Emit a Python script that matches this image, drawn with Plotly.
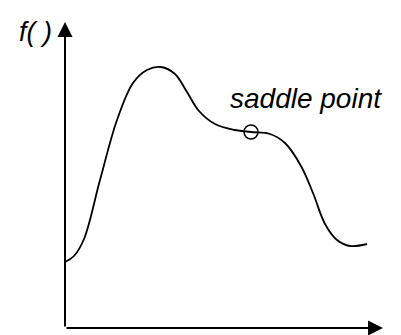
import plotly.graph_objects as go

# schematic curve f(x) (origin at the axis corner)
curve_x = [0, 9, 19, 35, 52, 68, 82, 96, 110, 122, 134, 150, 170, 186,
           205, 220, 236, 248, 260, 272, 285, 302]
curve_y = [66, 72, 89, 148, 208, 245, 258, 261, 254, 236, 217, 204, 198,
           196, 194, 185, 162, 135, 104, 88, 82, 84]

saddle_x = [186]
saddle_y = [196]

y_label = "f( )"
saddle_label = "saddle point"

x_end = 318
y_end = 306


def build_figure():
    fig = go.Figure()

    fig.add_trace(go.Scatter(
        x=curve_x,
        y=curve_y,
        mode="lines",
        line=dict(color="black", width=1.8, shape="spline", smoothing=1.0),
        hoverinfo="skip",
    ))

    fig.add_trace(go.Scatter(
        x=saddle_x,
        y=saddle_y,
        mode="markers",
        marker=dict(symbol="circle-open", size=14, color="black",
                    line=dict(width=1.5, color="black")),
        hoverinfo="skip",
    ))

    # axes drawn as arrows
    for hx, hy in [(x_end, 0), (0, y_end)]:
        fig.add_annotation(
            x=hx, y=hy, ax=0, ay=0, xref="x", yref="y", axref="x", ayref="y",
            text="", showarrow=True, arrowhead=2, arrowsize=1.5,
            arrowwidth=2, arrowcolor="black",
        )

    fig.add_annotation(
        x=-48, y=296, xref="x", yref="y", text="<i>" + y_label + "</i>",
        showarrow=False, xanchor="left", yanchor="middle",
        font=dict(family="Liberation Sans", size=27, color="black"),
    )
    fig.add_annotation(
        x=163, y=230, xref="x", yref="y", text="<i>" + saddle_label + "</i>",
        showarrow=False, xanchor="left", yanchor="middle",
        font=dict(family="Liberation Sans", size=28, color="black"),
    )

    # ranges offset by the 8px page margin around the plot div
    fig.update_layout(
        width=401,
        height=335,
        margin=dict(l=0, r=0, t=0, b=0),
        paper_bgcolor="white",
        plot_bgcolor="white",
        showlegend=False,
        xaxis=dict(range=[-57, 344], visible=False, fixedrange=True),
        yaxis=dict(range=[-15, 320], visible=False, fixedrange=True),
    )
    return fig


if __name__ == "__main__":
    fig = build_figure()
    fig.write_html("out.html", config={"displayModeBar": False})
